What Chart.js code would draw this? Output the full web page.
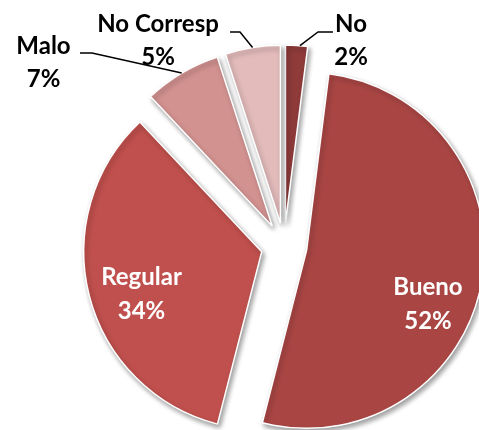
<!DOCTYPE html>
<html>
<head>
<meta charset="utf-8">
<script src="https://cdn.jsdelivr.net/npm/chart.js@4"></script>
<style>
  html, body { margin: 0; padding: 0; background: #fff; overflow: hidden; }
  canvas { display: block; }
</style>
</head>
<body>
<canvas id="pieChart" width="479" height="430"></canvas>
<script>
// data (clockwise from 12 o'clock)
const categories = ['No', 'Bueno', 'Regular', 'Malo', 'No Corresp'];
const values = [2, 52, 34, 7, 5];
const sliceColors = ['#8E3B3A', '#A94644', '#C0504D', '#D29290', '#E3BBBB'];

// how far each slice is pulled out of the pie
const explode = 23;

// label placement, relative to the pie centre
const labelSpots = [
    { inside: false, anchorFrac: 0.65, elbow: [34, -214], end: [49, -214], text: [67, -222] },
    { inside: true, text: [144, 41] },
    { inside: true, text: [-142.5, 31] },
    { inside: false, anchorFrac: 0.5, elbow: [-192, -193], end: [-204, -193], text: [-240.5, -200] },
    { inside: false, anchorFrac: 0.5, elbow: [-44, -214], end: [-54, -214], text: [-126, -222] }
];

const labelFont = '700 24px Lato';
const lineGap = 33;

function sliceShift(arc) {
    const mid = (arc.startAngle + arc.endAngle) / 2;
    return [Math.cos(mid) * explode, Math.sin(mid) * explode];
}

// draws the slices pulled out along their bisector, with a soft shadow
const explodedPie = {
    id: 'explodedPie',
    beforeDatasetsDraw(chart) {
        const ctx = chart.ctx;
        const meta = chart.getDatasetMeta(0);
        meta.data.forEach(arc => {
            const [dx, dy] = sliceShift(arc);
            ctx.save();
            ctx.translate(dx, dy);
            ctx.shadowColor = 'rgba(0, 0, 0, 0.38)';
            ctx.shadowBlur = 5;
            ctx.shadowOffsetX = 2;
            ctx.shadowOffsetY = 3;
            arc.draw(ctx);
            ctx.restore();
        });
        return false;
    },
    afterDraw(chart) {
        const ctx = chart.ctx;
        const meta = chart.getDatasetMeta(0);
        const total = values.reduce((a, b) => a + b, 0);
        ctx.save();
        ctx.font = labelFont;
        ctx.textAlign = 'center';
        ctx.textBaseline = 'middle';
        meta.data.forEach((arc, i) => {
            const spot = labelSpots[i];
            const cx = arc.x, cy = arc.y;
            const pct = Math.round(values[i] / total * 100) + '%';

            if (!spot.inside) {
                const [dx, dy] = sliceShift(arc);
                const a = arc.startAngle + (arc.endAngle - arc.startAngle) * spot.anchorFrac;
                const ax = cx + dx + Math.cos(a) * arc.outerRadius;
                const ay = cy + dy + Math.sin(a) * arc.outerRadius;
                ctx.beginPath();
                ctx.strokeStyle = '#000';
                ctx.lineWidth = 1.5;
                ctx.moveTo(ax, ay);
                ctx.lineTo(cx + spot.elbow[0], cy + spot.elbow[1]);
                ctx.lineTo(cx + spot.end[0], cy + spot.end[1]);
                ctx.stroke();
            }

            ctx.fillStyle = spot.inside ? '#fff' : '#000';
            const tx = cx + spot.text[0];
            const ty = cy + spot.text[1];
            ctx.fillText(categories[i], tx, ty);
            ctx.fillText(pct, tx, ty + (spot.inside ? 34 : lineGap));
        });
        ctx.restore();
    }
};

const ctx = document.getElementById('pieChart').getContext('2d');
new Chart(ctx, {
    type: 'pie',
    data: {
        labels: categories,
        datasets: [{
            data: values,
            backgroundColor: sliceColors,
            borderColor: '#ffffff',
            borderWidth: 1.5
        }]
    },
    options: {
        responsive: false,
        animation: false,
        radius: 178,
        layout: {
            padding: { left: 89, top: 62, right: 0, bottom: 0 }
        },
        plugins: {
            legend: { display: false },
            tooltip: { enabled: false }
        }
    },
    plugins: [explodedPie]
});
</script>
</body>
</html>
